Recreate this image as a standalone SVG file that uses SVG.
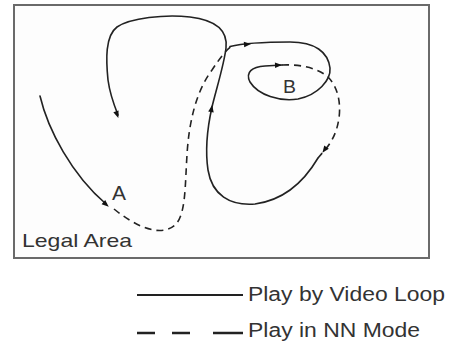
<svg xmlns="http://www.w3.org/2000/svg" xmlns:xlink="http://www.w3.org/1999/xlink" width="450" height="342" viewBox="0 0 450 342">
<style>
.sol{fill:none;stroke:#222;stroke-width:1.6;stroke-linecap:round;stroke-linejoin:round}
.dsh{fill:none;stroke:#222;stroke-width:1.6;stroke-dasharray:7 5}
.txt{font-family:"Liberation Sans",Arial,sans-serif;fill:#333}
.ah{fill:#111}
</style>
<defs>
<path id="ah" d="M1,0 L-6,-2.8 L-6,2.8 Z"/>
</defs>
<rect width="450" height="342" fill="#fff"/>
<g id="legal-area">
<rect x="14" y="5" width="415" height="253" fill="#fdfdfd" stroke="#6a6a6a" stroke-width="2"/>
<text class="txt" x="22" y="247" font-size="19" textLength="110" lengthAdjust="spacingAndGlyphs">Legal Area</text>
</g>
<g id="connectors">
<path class="sol" d="M40,96 C48,130 72,175 106,204"/>
<path class="dsh" d="M114,209 C135,226 160,238 175,225 C186,215 185,185 187,155 C189,120 197,90 212,70 C220,58 226,50 232,46"/>
<path class="sol" d="M230,46.5 C240,44 260,42 290,42 C315,42 328,52 330,68 C331,80 318,95 298,99 C280,102 258,95 250,82 C245,72 252,67 265,66 L282,65"/>
<path class="dsh" d="M282,65 C300,64 318,68 328,77 C338,87 341,103 339,118 C337,132 332,142 324,151 L318,158"/>
<path class="sol" d="M318,158 C305,180 285,200 255,204 C230,206 212,195 208,170 C205,150 208,125 212,107 C216,90 224,65 226,48 C228,30 215,20 190,17 C165,14 130,18 117,27 C105,36 106,60 108,80 C110,95 114,105 118,115"/>
<use xlink:href="#ah" class="ah" transform="translate(108,206) rotate(40)"/>
<use xlink:href="#ah" class="ah" transform="translate(250,44) rotate(-4)"/>
<use xlink:href="#ah" class="ah" transform="translate(281,65) rotate(-2)"/>
<use xlink:href="#ah" class="ah" transform="translate(323,152) rotate(126)"/>
<use xlink:href="#ah" class="ah" transform="translate(212,106) rotate(-80)"/>
<use xlink:href="#ah" class="ah" transform="translate(118,117) rotate(70)"/>
</g>
<g id="point-a">
<text class="txt" x="112" y="200" font-size="20" textLength="14" lengthAdjust="spacingAndGlyphs">A</text>
</g>
<g id="point-b">
<text class="txt" x="283" y="93" font-size="19" textLength="13" lengthAdjust="spacingAndGlyphs">B</text>
</g>
<g id="legend">
<line x1="137" y1="295" x2="243" y2="295" stroke="#222" stroke-width="2"/>
<text class="txt" x="248" y="300.5" font-size="20" textLength="197" lengthAdjust="spacingAndGlyphs">Play by Video Loop</text>
<path d="M137,333 H155 M172,333 H190 M213,333 H243" stroke="#222" stroke-width="2.5" fill="none"/>
<text class="txt" x="248" y="337" font-size="20" textLength="172" lengthAdjust="spacingAndGlyphs">Play in NN Mode</text>
</g>
</svg>
